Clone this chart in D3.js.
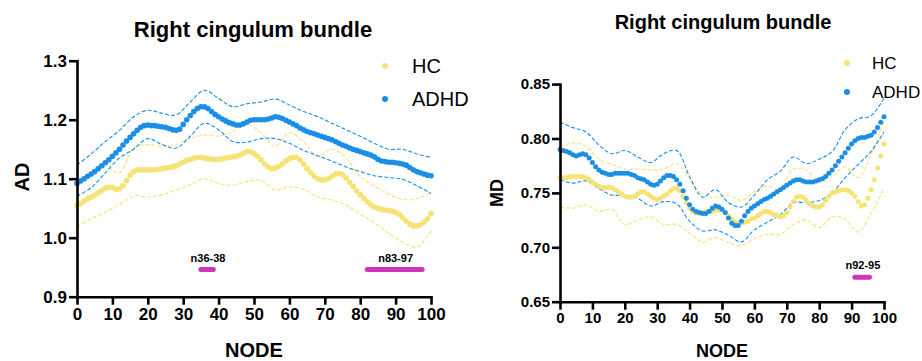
<!DOCTYPE html>
<html>
<head>
<meta charset="utf-8">
<script src="https://cdn.jsdelivr.net/npm/d3@7"></script>
<style>
  body { margin: 0; background: #fff; }
  svg { display: block; font-family: "Liberation Sans", Arial, Helvetica, sans-serif; }
</style>
</head>
<body>
<svg id="chart" width="922" height="361"></svg>
<script>
// Node positions along the tract (0..100) and the coarser grid used for the CI bands
const nodes = d3.range(0, 101);
const ciNodes = d3.range(0, 101, 4);
const xTicks = d3.range(0, 101, 10);

// ---- AD panel ----
const adTicks = [0.9, 1.0, 1.1, 1.2, 1.3];
const adADHD = [
  1.092, 1.096, 1.100, 1.104, 1.108, 1.112, 1.117, 1.122, 1.127, 1.132,
  1.138, 1.144, 1.150, 1.157, 1.164, 1.170, 1.176, 1.182, 1.187, 1.190,
  1.191, 1.190, 1.190, 1.189, 1.188, 1.187, 1.185, 1.183, 1.182, 1.184,
  1.192, 1.200, 1.207, 1.214, 1.219, 1.222, 1.222, 1.219, 1.214, 1.209,
  1.205, 1.201, 1.198, 1.195, 1.193, 1.191, 1.191, 1.193, 1.196, 1.199,
  1.200, 1.200, 1.200, 1.200, 1.201, 1.203, 1.205, 1.204, 1.202, 1.199,
  1.196, 1.193, 1.190, 1.186, 1.183, 1.180, 1.178, 1.176, 1.174, 1.172,
  1.170, 1.168, 1.166, 1.163, 1.160, 1.157, 1.155, 1.152, 1.150, 1.148,
  1.146, 1.144, 1.142, 1.140, 1.137, 1.133, 1.130, 1.129, 1.128, 1.128,
  1.127, 1.126, 1.125, 1.123, 1.119, 1.115, 1.112, 1.110, 1.108, 1.106,
  1.105
];
const adHC = [
  1.055, 1.058, 1.062, 1.066, 1.069, 1.072, 1.076, 1.080, 1.084, 1.086,
  1.085, 1.082, 1.083, 1.088, 1.097, 1.106, 1.112, 1.115, 1.115, 1.115,
  1.115, 1.115, 1.115, 1.116, 1.117, 1.118, 1.119, 1.120, 1.122, 1.125,
  1.128, 1.131, 1.133, 1.135, 1.136, 1.136, 1.135, 1.134, 1.133, 1.132,
  1.133, 1.134, 1.135, 1.136, 1.137, 1.138, 1.140, 1.143, 1.146, 1.146,
  1.143, 1.138, 1.132, 1.125, 1.120, 1.117, 1.118, 1.121, 1.125, 1.130,
  1.134, 1.136, 1.136, 1.132, 1.125, 1.117, 1.110, 1.104, 1.100, 1.098,
  1.098, 1.100, 1.104, 1.108, 1.109, 1.107, 1.101, 1.094, 1.087, 1.079,
  1.073, 1.067, 1.061, 1.056, 1.052, 1.050, 1.048, 1.047, 1.046, 1.045,
  1.043, 1.040, 1.034, 1.028, 1.023, 1.020, 1.020, 1.022, 1.026, 1.032,
  1.041
];
const adADHDUpper = [1.123, 1.142, 1.163, 1.182, 1.205, 1.216, 1.211, 1.208, 1.230, 1.250, 1.236, 1.222, 1.227,
                     1.230, 1.235, 1.225, 1.214, 1.205, 1.194, 1.183, 1.172, 1.160, 1.150, 1.150, 1.142, 1.136];
const adADHDLower = [1.070, 1.085, 1.110, 1.135, 1.150, 1.168, 1.158, 1.152, 1.172, 1.194, 1.183, 1.163, 1.162,
                     1.168, 1.168, 1.160, 1.148, 1.139, 1.130, 1.120, 1.112, 1.105, 1.102, 1.099, 1.088, 1.075];
const adHCUpper = [1.092, 1.104, 1.120, 1.110, 1.152, 1.158, 1.155, 1.158, 1.168, 1.174, 1.172, 1.180, 1.192,
                   1.178, 1.155, 1.178, 1.162, 1.138, 1.150, 1.135, 1.103, 1.088, 1.074, 1.065, 1.066, 1.077];
const adHCLower = [1.019, 1.032, 1.043, 1.057, 1.071, 1.069, 1.073, 1.081, 1.090, 1.100, 1.092, 1.089, 1.095,
                   1.097, 1.081, 1.086, 1.082, 1.069, 1.064, 1.055, 1.040, 1.025, 1.008, 0.992, 0.984, 1.012];
const adSig = [
  { start: 36, end: 38, label: "n36-38" },
  { start: 83, end: 97, label: "n83-97" }
];

// ---- MD panel ----
const mdTicks = [0.65, 0.70, 0.75, 0.80, 0.85];
const mdADHD = [
  0.790, 0.789, 0.788, 0.787, 0.785, 0.784, 0.785, 0.786, 0.785, 0.782,
  0.778, 0.774, 0.771, 0.769, 0.768, 0.767, 0.767, 0.768, 0.768, 0.768,
  0.768, 0.768, 0.767, 0.766, 0.764, 0.763, 0.762, 0.760, 0.758, 0.757,
  0.758, 0.761, 0.764, 0.766, 0.766, 0.765, 0.762, 0.758, 0.752, 0.745,
  0.739, 0.735, 0.733, 0.732, 0.731, 0.731, 0.733, 0.736, 0.738, 0.737,
  0.735, 0.732, 0.727, 0.722, 0.720, 0.720, 0.724, 0.729, 0.733, 0.736,
  0.738, 0.740, 0.742, 0.744, 0.745, 0.747, 0.749, 0.751, 0.753, 0.755,
  0.757, 0.759, 0.761, 0.762, 0.762, 0.761, 0.760, 0.760, 0.760, 0.761,
  0.762, 0.763, 0.765, 0.768, 0.771, 0.775, 0.779, 0.783, 0.787, 0.791,
  0.795, 0.798, 0.800, 0.801, 0.801, 0.802, 0.803, 0.806, 0.810, 0.815,
  0.820
];
const mdHC = [
  0.764, 0.764, 0.764, 0.765, 0.765, 0.765, 0.765, 0.765, 0.764, 0.762,
  0.760, 0.758, 0.756, 0.755, 0.755, 0.755, 0.755, 0.753, 0.751, 0.749,
  0.747, 0.746, 0.746, 0.747, 0.749, 0.751, 0.751, 0.749, 0.747, 0.745,
  0.744, 0.745, 0.747, 0.749, 0.752, 0.754, 0.754, 0.752, 0.747, 0.741,
  0.736, 0.733, 0.731, 0.731, 0.732, 0.733, 0.733, 0.733, 0.734, 0.734,
  0.734, 0.732, 0.729, 0.726, 0.723, 0.722, 0.722, 0.723, 0.724, 0.726,
  0.727, 0.729, 0.731, 0.733, 0.733, 0.732, 0.730, 0.729, 0.728, 0.729,
  0.732, 0.737, 0.742, 0.746, 0.747, 0.746, 0.743, 0.740, 0.738, 0.737,
  0.737, 0.739, 0.743, 0.747, 0.750, 0.751, 0.752, 0.753, 0.753, 0.752,
  0.750, 0.747, 0.742, 0.738, 0.739, 0.745, 0.753, 0.762, 0.773, 0.784,
  0.795
];
const mdADHDUpper = [0.815, 0.810, 0.806, 0.794, 0.786, 0.789, 0.783, 0.778, 0.786, 0.789, 0.765, 0.746, 0.753,
                     0.741, 0.737, 0.748, 0.762, 0.770, 0.783, 0.777, 0.781, 0.788, 0.808, 0.818, 0.821, 0.837];
const mdADHDLower = [0.762, 0.759, 0.761, 0.754, 0.748, 0.748, 0.745, 0.738, 0.742, 0.740, 0.724, 0.715, 0.716,
                     0.711, 0.705, 0.716, 0.723, 0.730, 0.741, 0.741, 0.743, 0.750, 0.764, 0.776, 0.788, 0.806];
const mdHCUpper = [0.792, 0.796, 0.793, 0.781, 0.776, 0.772, 0.772, 0.771, 0.772, 0.777, 0.763, 0.748, 0.746,
                   0.748, 0.743, 0.751, 0.756, 0.753, 0.772, 0.771, 0.760, 0.765, 0.774, 0.764, 0.785, 0.816];
const mdHCLower = [0.737, 0.736, 0.739, 0.733, 0.735, 0.721, 0.725, 0.728, 0.721, 0.721, 0.713, 0.705, 0.709,
                   0.704, 0.702, 0.708, 0.712, 0.712, 0.721, 0.725, 0.718, 0.728, 0.726, 0.714, 0.731, 0.754];
const mdSig = [
  { start: 92, end: 95, label: "n92-95" }
];

// Colours
const colors = {
  ADHD: '#1b8ee6',
  HC: '#f7e276',
  sig: '#cf35b8'
};

const svg = d3.select('#chart');

function drawPanel(p) {
  const x = d3.scaleLinear().domain([0, 100]).range([p.left, p.right]);
  const y = d3.scaleLinear().domain([p.yTicks[0], p.yTicks[p.yTicks.length - 1]]).range([p.bottom, p.top]);
  const g = svg.append('g');

  // Title
  g.append('text')
    .attr('x', p.titleX).attr('y', p.titleY)
    .attr('text-anchor', 'middle')
    .style('font-weight', 'bold')
    .style('font-size', p.titleSize + 'px')
    .text('Right cingulum bundle');

  // CI dashed lines
  const ciLine = d3.line()
    .x((d, i) => x(ciNodes[i]))
    .y(d => y(d))
    .curve(d3.curveCatmullRom);

  [[p.hcUpper, colors.HC], [p.hcLower, colors.HC], [p.adhdUpper, colors.ADHD], [p.adhdLower, colors.ADHD]]
    .forEach(([vals, c]) => {
      g.append('path')
        .attr('d', ciLine(vals))
        .attr('fill', 'none')
        .attr('stroke', c)
        .attr('stroke-width', 1.1)
        .attr('stroke-dasharray', '4,2');
    });

  // Mean dots
  g.append('g').selectAll('circle')
    .data(p.hc)
    .join('circle')
    .attr('cx', (d, i) => x(nodes[i]))
    .attr('cy', d => y(d))
    .attr('r', p.dotR)
    .attr('fill', colors.HC);

  g.append('g').selectAll('circle')
    .data(p.adhd)
    .join('circle')
    .attr('cx', (d, i) => x(nodes[i]))
    .attr('cy', d => y(d))
    .attr('r', p.dotR)
    .attr('fill', colors.ADHD);

  // Significance bars
  const sig = g.append('g').selectAll('g').data(p.sig).join('g');
  sig.append('line')
    .attr('x1', d => x(d.start - 1))
    .attr('x2', d => x(d.end + 0.5))
    .attr('y1', y(p.sigLevel))
    .attr('y2', y(p.sigLevel))
    .attr('stroke', colors.sig)
    .attr('stroke-width', 5)
    .attr('stroke-linecap', 'round');
  sig.append('text')
    .attr('x', d => x((d.start + d.end) / 2))
    .attr('y', y(p.sigLevel) - 8)
    .attr('text-anchor', 'middle')
    .style('font-weight', 'bold')
    .style('font-size', '11px')
    .text(d => d.label);

  // Axes
  const xAxis = g.append('g')
    .attr('transform', `translate(0,${p.bottom})`)
    .call(d3.axisBottom(x).tickValues(xTicks).tickSize(8).tickSizeOuter(0).tickPadding(3));
  const yAxis = g.append('g')
    .attr('transform', `translate(${p.left},0)`)
    .call(d3.axisLeft(y).tickValues(p.yTicks).tickSize(8).tickSizeOuter(0).tickPadding(2).tickFormat(d3.format(p.fmt)));

  [xAxis, yAxis].forEach(a => {
    a.select('.domain').attr('stroke', '#000').attr('stroke-width', 2.6).attr('stroke-linecap', 'square');
    a.selectAll('.tick line').attr('stroke', '#000').attr('stroke-width', 2.6);
    a.selectAll('.tick text')
      .attr('fill', '#000')
      .style('font-family', '"Liberation Sans", Arial, sans-serif')
      .style('font-weight', 'bold')
      .style('font-size', p.tickSize + 'px');
  });

  // Axis titles
  g.append('text')
    .attr('x', (p.left + p.right) / 2).attr('y', p.xLabelY)
    .attr('text-anchor', 'middle')
    .style('font-weight', 'bold')
    .style('font-size', p.labelSize + 'px')
    .text('NODE');
  g.append('text')
    .attr('transform', `translate(${p.yLabelX},${p.yLabelY}) rotate(-90)`)
    .attr('text-anchor', 'middle')
    .attr('dy', '0.35em')
    .style('font-weight', 'bold')
    .style('font-size', p.labelSize + 'px')
    .text(p.yLabel);

  // Legend
  const legend = g.append('g').selectAll('g')
    .data([['HC', colors.HC], ['ADHD', colors.ADHD]])
    .join('g')
    .attr('transform', (d, i) => `translate(${p.legendX},${p.legendY + i * p.legendGap})`);
  legend.append('circle').attr('r', 3).attr('fill', d => d[1]);
  legend.append('text')
    .attr('x', p.legendTextDx)
    .attr('dy', '0.35em')
    .style('font-size', p.legendSize + 'px')
    .text(d => d[0]);
}

drawPanel({
  left: 77, right: 431, top: 60.7, bottom: 296.7,
  yTicks: adTicks, fmt: '.1f', yLabel: 'AD',
  adhd: adADHD, hc: adHC,
  adhdUpper: adADHDUpper, adhdLower: adADHDLower, hcUpper: adHCUpper, hcLower: adHCLower,
  sig: adSig, sigLevel: 0.946,
  dotR: 2.8,
  titleX: 253, titleY: 37, titleSize: 22,
  tickSize: 17, labelSize: 20,
  xLabelY: 357, yLabelX: 22, yLabelY: 177,
  legendX: 385, legendY: 66, legendGap: 33, legendTextDx: 27, legendSize: 20
});

drawPanel({
  left: 560, right: 884, top: 84.1, bottom: 301.7,
  yTicks: mdTicks, fmt: '.2f', yLabel: 'MD',
  adhd: mdADHD, hc: mdHC,
  adhdUpper: mdADHDUpper, adhdLower: mdADHDLower, hcUpper: mdHCUpper, hcLower: mdHCLower,
  sig: mdSig, sigLevel: 0.6725,
  dotR: 2.5,
  titleX: 723, titleY: 29, titleSize: 20,
  tickSize: 15, labelSize: 18,
  xLabelY: 357, yLabelX: 497, yLabelY: 193,
  legendX: 847, legendY: 63, legendGap: 29, legendTextDx: 25, legendSize: 17
});
</script>
</body>
</html>
